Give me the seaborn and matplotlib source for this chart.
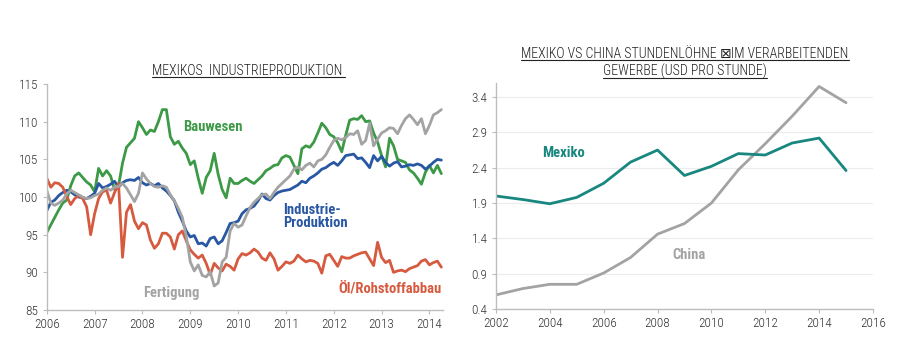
import numpy as np
import pandas as pd
import matplotlib
matplotlib.use("Agg")
import matplotlib.pyplot as plt
from matplotlib.lines import Line2D
import seaborn as sns

# --- Data: Mexikos Industrieproduktion, monatlich ab Jan 2006 ---
start_year = 2006
bauwesen = [
    95.3, 96.3, 97.3, 98.3, 99.2, 99.6, 101.5, 102.8, 103.2, 102.6, 102.0, 101.6,
    100.7, 103.8, 102.8, 103.5, 102.8, 101.0, 101.5, 104.5, 106.6, 107.2, 107.8, 110.0,
    109.2, 108.3, 108.9, 108.7, 110.0, 111.6, 111.6, 108.0, 107.0, 107.4, 106.5, 105.8,
    104.3, 104.8, 102.5, 100.5, 102.6, 103.5, 105.8, 103.0, 101.0, 99.9, 102.5, 101.8,
    101.8, 102.2, 102.5, 102.1, 101.8, 102.3, 102.8, 103.5, 103.8, 104.2, 104.3, 105.2,
    105.5, 105.3, 104.2, 103.1, 106.4, 106.8, 106.6, 107.3, 108.5, 109.8, 109.2, 108.3,
    108.0, 107.2, 106.0, 108.2, 110.2, 110.4, 110.3, 110.8, 110.0, 110.1, 108.5, 107.3,
    105.5, 104.0, 107.8, 106.8, 105.0, 104.8, 104.6, 103.6, 103.2, 102.5, 101.7, 103.3,
    104.2, 103.2, 104.2, 103.1,
]
industrie = [
    98.2, 99.3, 99.6, 100.2, 100.6, 100.9, 100.7, 100.3, 100.0, 99.9, 99.8, 100.1,
    100.5, 101.8, 101.2, 101.4, 101.7, 102.1, 101.3, 101.9, 102.2, 102.3, 102.2, 102.6,
    101.9, 101.6, 101.8, 101.5, 101.8, 101.2, 100.8, 100.2, 99.5, 98.0, 96.8, 95.5,
    94.7, 94.9, 93.8, 93.9, 93.5, 94.5, 94.7, 93.8, 94.2, 95.3, 96.5, 96.6,
    96.8, 97.8, 98.3, 98.5, 98.8, 99.5, 100.4, 99.8, 99.6, 100.2, 100.6, 100.8,
    100.9, 101.0, 101.3, 101.6, 102.1, 101.9, 102.5, 102.8, 103.2, 103.7, 103.9, 104.3,
    104.6, 104.2, 104.8, 105.5, 105.6, 105.7, 105.1, 105.2, 104.6, 103.9, 105.5, 104.8,
    105.4, 104.6, 104.1, 104.5, 104.7, 104.0, 104.1, 104.3, 104.2, 104.4, 104.2, 103.7,
    104.1, 104.6, 105.0, 104.9,
]
fertigung = [
    100.9, 99.2, 98.9, 99.2, 99.6, 100.4, 100.9, 100.6, 100.3, 100.0, 99.8, 99.9,
    100.2, 100.4, 100.9, 101.2, 100.9, 101.3, 101.4, 101.8, 101.2, 100.3, 99.4, 100.5,
    103.2, 102.4, 101.8, 101.4, 101.3, 101.5, 101.3, 100.3, 99.5, 98.5, 97.3, 94.8,
    91.4, 90.2, 91.0, 89.6, 89.4, 90.1, 88.2, 88.6, 91.4, 92.0, 95.5, 96.5,
    96.0, 96.3, 97.5, 98.6, 99.3, 99.8, 100.3, 100.4, 99.8, 100.6, 101.3, 101.8,
    102.3, 102.8, 103.7, 104.0, 103.6, 104.2, 104.5, 104.0, 104.8, 105.0, 105.6, 106.6,
    107.5, 107.8, 107.6, 107.9, 108.4, 108.3, 108.8, 107.0, 107.5, 109.8, 106.8, 107.7,
    108.5, 108.8, 109.2, 109.1, 108.4, 109.5, 110.4, 110.9, 110.3, 109.6, 110.4, 108.4,
    109.5, 110.9, 111.2, 111.6,
]
oel = [
    102.5, 101.3, 101.9, 101.8, 101.3, 100.1, 99.0, 99.8, 100.2, 99.8, 98.7, 95.0,
    97.8, 99.8, 100.7, 100.9, 99.2, 100.6, 101.8, 92.0, 98.0, 99.0, 96.8, 95.8,
    96.6, 96.3, 94.3, 93.2, 93.8, 95.2, 95.2, 94.7, 93.1, 95.0, 95.5, 94.2,
    93.0, 92.4, 91.9, 92.3, 91.2, 89.7, 91.2, 90.6, 90.2, 91.1, 90.8, 90.3,
    91.8, 92.5, 92.3, 92.6, 93.1, 92.7, 91.9, 91.6, 92.6, 91.8, 90.3, 90.8,
    91.4, 91.2, 91.5, 92.3, 91.8, 91.4, 91.6, 91.5, 91.2, 89.9, 92.2, 92.4,
    91.6, 90.8, 92.1, 91.9, 91.9, 92.2, 92.4, 92.6, 92.7, 91.8, 90.9, 94.0,
    92.0, 91.3, 91.6, 90.0, 90.2, 90.3, 90.1, 90.5, 90.7, 90.9, 91.5, 91.7,
    91.0, 91.3, 91.5, 90.7,
]

# --- Data: Stundenloehne (USD pro Stunde) ---
wage_years = list(range(2002, 2016))
mexiko = [2.00, 1.95, 1.89, 1.98, 2.18, 2.48, 2.65, 2.29, 2.42, 2.60, 2.58, 2.75, 2.82, 2.36]
china = [0.60, 0.69, 0.75, 0.75, 0.91, 1.13, 1.46, 1.61, 1.90, 2.37, 2.74, 3.13, 3.55, 3.32]

GREEN = "#3c9a47"
BLUE = "#2857a3"
GRAY = "#a3a3a3"
RED = "#d65a3f"
TEAL = "#17877f"
AXIS = "#bdbdbd"
TXT = "#333333"
TITLE = "#222222"

sns.set_theme(style="ticks")
plt.rcParams['font.family'] = ['Roboto Condensed', 'DejaVu Sans']

months = start_year + np.arange(len(bauwesen)) / 12.0
ip = pd.DataFrame({
    "Datum": months,
    "Bauwesen": bauwesen,
    "Industrie-Produktion": industrie,
    "Öl/Rohstoffabbau": oel,
    "Fertigung": fertigung,
}).melt(id_vars="Datum", var_name="Serie", value_name="Index")

wages = pd.DataFrame({"Jahr": wage_years, "Mexiko": mexiko, "China": china}) \
    .melt(id_vars="Jahr", var_name="Land", value_name="USD")

fig = plt.figure(figsize=(9, 3.5), dpi=100)
ax1 = fig.add_axes([0.052, 0.114, 0.44, 0.646])
ax2 = fig.add_axes([0.551, 0.117, 0.419, 0.646])

order = ["Bauwesen", "Industrie-Produktion", "Öl/Rohstoffabbau", "Fertigung"]
sns.lineplot(data=ip, x="Datum", y="Index", hue="Serie", hue_order=order,
             palette=[GREEN, BLUE, RED, GRAY], linewidth=2, legend=False, ax=ax1)
sns.lineplot(data=wages, x="Jahr", y="USD", hue="Land", hue_order=["China", "Mexiko"],
             palette=[GRAY, TEAL], linewidth=2, legend=False, ax=ax2)

for ax in (ax1, ax2):
    sns.despine(ax=ax)
    for s in ("left", "bottom"):
        ax.spines[s].set_color(AXIS)
        ax.spines[s].set_linewidth(1)
    ax.tick_params(axis="both", length=3, width=0.8, color=AXIS,
                   labelsize=9.5, labelcolor=TXT, pad=3)
    ax.set_xlabel("")
    ax.set_ylabel("")

ax1.set_xlim(2006, 2014.28)
ax1.set_ylim(85, 115)
ax1.set_xticks(range(2006, 2015))
ax1.set_yticks(range(85, 116, 5))

ax2.set_xlim(2002, 2016)
ax2.set_ylim(0.4, 3.6)
ax2.set_xticks(range(2002, 2017, 2))
ax2.set_yticks([0.4, 0.9, 1.4, 1.9, 2.4, 2.9, 3.4])
ax2.set_yticklabels(["0.4", "0.9", "1.4", "1.9", "2.4", "2.9", "3.4"])
ax2.grid(axis="y", color="#ececec", linewidth=0.8)
ax2.set_axisbelow(True)

for ax in (ax1, ax2):
    for lbl in ax.get_xticklabels() + ax.get_yticklabels():
        lbl.set_fontweight("light")

# series labels
lab = dict(fontsize=10.5, fontweight="bold", va="center", ha="left")
ax1.text(2008.84, 109.3, "Bauwesen", color=GREEN, **lab)
ax1.text(2010.95, 97.4, "Industrie-\nProduktion", color=BLUE, linespacing=0.95, **lab)
ax1.text(2008.02, 87.25, "Fertigung", color=GRAY, **lab)
ax1.text(2012.1, 87.9, "Öl/Rohstoffabbau", color=RED, **lab)
ax2.text(2003.71, 2.61, "Mexiko", color=TEAL, **lab)
ax2.text(2008.57, 1.16, "China", color=GRAY, **lab)

# underlined titles, built from pieces so the box sign gets a font that has it
cond = ['Roboto Condensed', 'DejaVu Sans']
titles = [
    (0.276, 1 - 75 / 350, [("MEXIKOS  INDUSTRIEPRODUKTION ", cond, "light")]),
    (0.761, 1 - 58 / 350, [("MEXIKO VS CHINA STUNDENLÖHNE ", cond, "light"),
                           ("⊠", ['DejaVu Sans'], "normal"),
                           ("IM VERARBEITENDEN", cond, "light")]),
    (0.761, 1 - 76 / 350, [("GEWERBE (USD PRO STUNDE)", cond, "light")]),
]
fig.canvas.draw()
renderer = fig.canvas.get_renderer()
inv = fig.transFigure.inverted()
for xc, y, pieces in titles:
    texts = []
    widths = []
    for s, fam, w in pieces:
        t = fig.text(0, y, s, ha="left", va="baseline", fontsize=10,
                     family=fam, fontweight=w, color=TITLE)
        bb = t.get_window_extent(renderer).transformed(inv)
        texts.append(t)
        widths.append(bb.width)
    x = xc - sum(widths) / 2
    x0 = x
    for t, w in zip(texts, widths):
        t.set_x(x)
        x += w
    uy = y - 1.6 / 350
    fig.add_artist(Line2D([x0, x], [uy, uy], color=TITLE, lw=0.8,
                          transform=fig.transFigure))

fig.savefig("out.png", dpi=100)
